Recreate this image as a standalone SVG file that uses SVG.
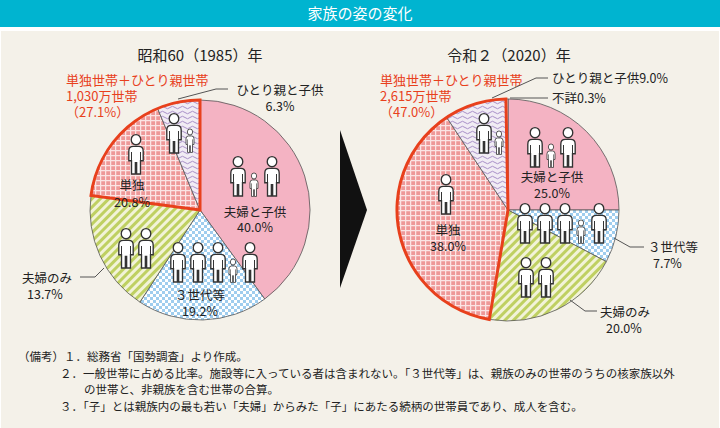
<svg xmlns="http://www.w3.org/2000/svg" width="720" height="428" viewBox="0 0 720 428">
<style>
text{font-family:"Noto Sans CJK JP","Liberation Sans",sans-serif;fill:#222}
.lb{font-size:12.5px}
.c{text-anchor:middle}
.red{fill:#e8401c;font-size:13px}
.t{font-size:15px}
.n{font-size:11.5px;font-family:"Noto Sans CJK JP",serif}
.sl{stroke:#555;stroke-width:0.8}
.ld{fill:none;stroke:#555;stroke-width:1}
.ro{fill:none;stroke:#e8401c;stroke-width:3;stroke-linejoin:miter}
</style>
<defs>
<pattern id="pBlue" width="6" height="6" patternUnits="userSpaceOnUse"><rect width="6" height="6" fill="#9fcdee"/><rect width="3" height="3" fill="#fff"/><rect x="3" y="3" width="3" height="3" fill="#fff"/></pattern>
<pattern id="pGreen" width="6" height="6" patternUnits="userSpaceOnUse" patternTransform="rotate(45)"><rect width="6" height="6" fill="#f2f3d8"/><rect width="3" height="6" fill="#bfd062"/></pattern>
<pattern id="pRed" width="5" height="5" patternUnits="userSpaceOnUse"><rect width="5" height="5" fill="#ee9898"/><path d="M0,0.6H5M0.6,0V5" stroke="#fbe4e4" stroke-width="1.3"/></pattern>
<pattern id="pPurple" width="10" height="5" patternUnits="userSpaceOnUse"><rect width="10" height="5" fill="#f1ecf4"/><path d="M0,2.5Q2.5,0 5,2.5T10,2.5" fill="none" stroke="#a991c8" stroke-width="1"/></pattern>
<symbol id="ad" viewBox="-1 -1 20 44" preserveAspectRatio="none"><circle cx="9" cy="6" r="5.3" fill="#fff" stroke="#333" stroke-width="1.5"/><path d="M1,28V18Q1,13 6,13H12Q17,13 17,18V28H14V42H9.7V30H8.3V42H4V28Z" fill="#fff" stroke="#333" stroke-width="1.5"/><path d="M4,19V28M14,19V28" stroke="#333" stroke-width="1.1"/></symbol>
</defs>
<rect width="720" height="428" fill="#fff"/>
<rect x="0" y="0" width="720" height="27" fill="#00b4d0"/>
<text x="360" y="19" class="c" style="fill:#fff;font-size:15px">家族の姿の変化</text>
<rect x="1" y="31" width="718" height="397" fill="#f4f1e9"/>

<g id="pie1985">
<path d="M200,210L200,100A110,110 0 0 1 264.7,299Z" fill="#f4b3c3" class="sl"/>
<path d="M200,210L264.7,299A110,110 0 0 1 139.9,302.1Z" fill="url(#pBlue)" class="sl"/>
<path d="M200,210L139.9,302.1A110,110 0 0 1 91,195.4Z" fill="url(#pGreen)" class="sl"/>
<path d="M200,210L91,195.4A110,110 0 0 1 157.6,108.5Z" fill="url(#pRed)" class="sl"/>
<path d="M200,210L157.6,108.5A110,110 0 0 1 200,100Z" fill="url(#pPurple)" class="sl"/>
<path d="M200,210L91,195.4A110,110 0 0 1 200,100Z" class="ro"/>
<use href="#ad" x="165" y="112" width="18" height="42"/>
<use href="#ad" x="185" y="128" width="10" height="25"/>
<use href="#ad" x="127" y="133" width="18" height="42"/>
<use href="#ad" x="229" y="155" width="18" height="42"/>
<use href="#ad" x="249" y="172" width="10" height="25"/>
<use href="#ad" x="263" y="155" width="18" height="42"/>
<use href="#ad" x="169" y="241" width="18" height="42"/>
<use href="#ad" x="189" y="241" width="18" height="42"/>
<use href="#ad" x="209" y="241" width="18" height="42"/>
<use href="#ad" x="228" y="258" width="10" height="25"/>
<use href="#ad" x="241" y="241" width="18" height="42"/>
<use href="#ad" x="117" y="227" width="18" height="42"/>
<use href="#ad" x="137" y="227" width="18" height="42"/>
<text x="200" y="61" class="t c">昭和60（1985）年</text>
<text x="66" y="85" class="red">単独世帯＋ひとり親世帯</text>
<text x="66" y="101" class="red">1,030万世帯</text>
<text x="66" y="117" class="red">（27.1%）</text>
<text x="280" y="95" class="lb c">ひとり親と子供</text>
<text x="280" y="111" class="lb c">6.3%</text>
<text x="132" y="190" class="lb c">単独</text>
<text x="132" y="207" class="lb c">20.8%</text>
<text x="255" y="217" class="lb c">夫婦と子供</text>
<text x="255" y="232" class="lb c">40.0%</text>
<text x="200" y="300" class="lb c">３世代等</text>
<text x="200" y="316" class="lb c">19.2%</text>
<text x="22" y="283" class="lb">夫婦のみ</text>
<text x="27" y="299" class="lb">13.7%</text>
</g>

<g id="arrow"><polygon points="340,130 367,210 340,288" fill="#111"/></g>

<g id="pie2020">
<path d="M508,210L508,99A111,111 0 0 1 619,210Z" fill="#f4b3c3" class="sl"/>
<path d="M508,210L619,210A111,111 0 0 1 606.3,261.6Z" fill="url(#pBlue)" class="sl"/>
<path d="M508,210L606.3,261.6A111,111 0 0 1 489.3,319.4Z" fill="url(#pGreen)" class="sl"/>
<path d="M508,210L489.3,319.4A111,111 0 0 1 446.7,117.4Z" fill="url(#pRed)" class="sl"/>
<path d="M508,210L446.7,117.4A111,111 0 0 1 505.9,99Z" fill="url(#pPurple)" class="sl"/>
<path d="M508,210L505.9,99A111,111 0 0 1 508,99Z" fill="#fff" class="sl"/>
<path d="M508,210L489.3,319.4A111,111 0 0 1 505.9,99Z" class="ro"/>
<use href="#ad" x="475" y="112" width="18" height="42"/>
<use href="#ad" x="494" y="130" width="10" height="25"/>
<use href="#ad" x="437" y="173" width="18" height="42"/>
<use href="#ad" x="526" y="126" width="18" height="42"/>
<use href="#ad" x="546" y="143" width="10" height="25"/>
<use href="#ad" x="559" y="126" width="18" height="42"/>
<use href="#ad" x="516" y="202" width="18" height="42"/>
<use href="#ad" x="536" y="202" width="18" height="42"/>
<use href="#ad" x="556" y="202" width="18" height="42"/>
<use href="#ad" x="576" y="219" width="10" height="25"/>
<use href="#ad" x="590" y="202" width="18" height="42"/>
<use href="#ad" x="517" y="256" width="18" height="42"/>
<use href="#ad" x="537" y="256" width="18" height="42"/>
<text x="509" y="61" class="t c">令和２（2020）年</text>
<text x="380" y="85" class="red">単独世帯＋ひとり親世帯</text>
<text x="380" y="101" class="red">2,615万世帯</text>
<text x="380" y="117" class="red">（47.0%）</text>
<text x="552" y="83" class="lb">ひとり親と子供9.0%</text>
<text x="552" y="103" class="lb">不詳0.3%</text>
<text x="552" y="182" class="lb c">夫婦と子供</text>
<text x="552" y="198" class="lb c">25.0%</text>
<text x="448" y="235" class="lb c">単独</text>
<text x="448" y="251" class="lb c">38.0%</text>
<text x="648" y="252" class="lb">３世代等</text>
<text x="653" y="268" class="lb">7.7%</text>
<text x="600" y="317" class="lb">夫婦のみ</text>
<text x="606" y="333" class="lb">20.0%</text>
</g>

<g id="connectors">
<path d="M228,89H216L178,99" class="ld"/>
<path d="M80,277H95L104,268" class="ld"/>
<path d="M548,78H536L492,98" class="ld"/>
<path d="M548,98H510" class="ld"/>
<path d="M644,247H630L614,238" class="ld"/>
<path d="M597,311H585L570,300" class="ld"/>
</g>

<g id="notes">
<text x="18" y="361" class="n">（備考）１．総務省「国勢調査」より作成。</text>
<text x="60" y="378" class="n">２．一般世帯に占める比率。施設等に入っている者は含まれない。「３世代等」は、親族のみの世帯のうちの核家族以外</text>
<text x="84" y="394" class="n">の世帯と、非親族を含む世帯の合算。</text>
<text x="60" y="411" class="n">３．「子」とは親族内の最も若い「夫婦」からみた「子」にあたる続柄の世帯員であり、成人を含む。</text>
</g>
</svg>
